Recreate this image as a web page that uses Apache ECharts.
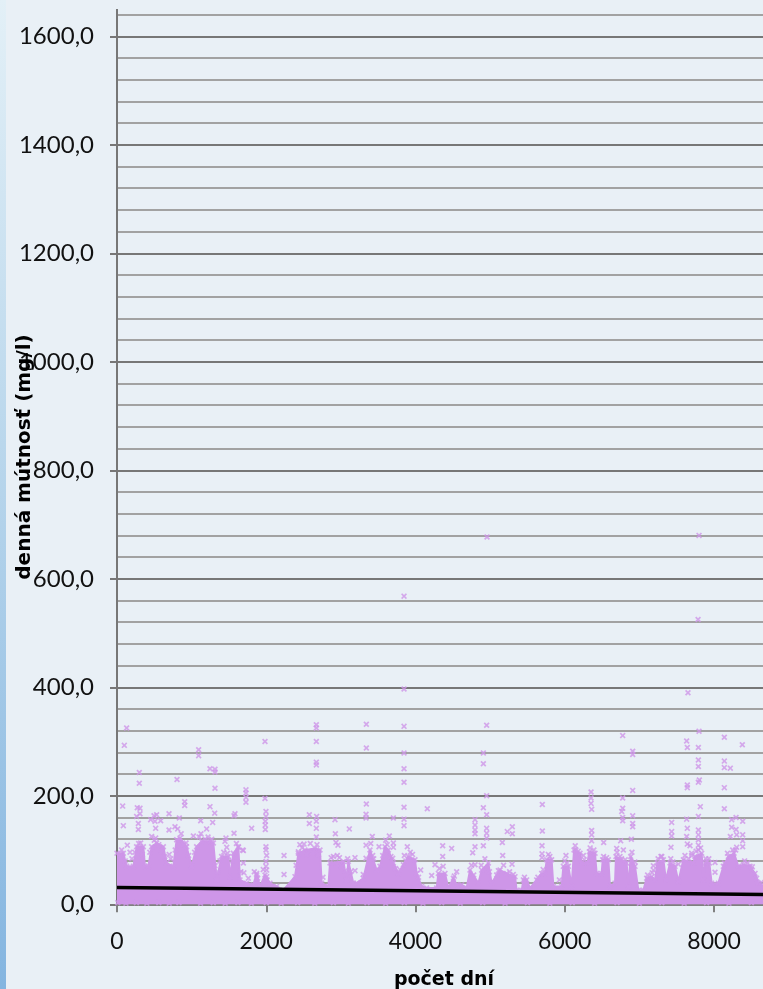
<!DOCTYPE html>
<html><head><meta charset="utf-8">
<script src="https://cdn.jsdelivr.net/npm/echarts@6/dist/echarts.min.js"></script>
<style>html,body{margin:0;padding:0;background:#E9F0F6;overflow:hidden}
#strip{position:absolute;left:0;top:0;width:6px;height:989px;background:linear-gradient(#E3F0F7,#BAD7EC 45%,#84B5E0)}
#c{position:absolute;left:0;top:0;width:763px;height:989px}</style></head>
<body><div id="c"></div><div id="strip"></div>
<script>
// Upper edge of the solid mass of overlapping daily points [day, mg/l]
const denseMassTop = [[0,94],[85,94],[129,70],[219,70],[263,106],[353,106],[375,70],[420,70],[464,106],[531,113],[621,106],[665,76],[755,70],[799,119],[844,122],[933,106],[1000,70],[1067,106],[1134,116],[1246,116],[1291,113],[1335,45],[1402,88],[1492,88],[1514,51],[1559,94],[1626,106],[1648,45],[1737,39],[1827,36],[1871,57],[1916,33],[1983,54],[2050,39],[2139,33],[2229,26],[2385,51],[2430,94],[2519,100],[2653,103],[2720,100],[2742,39],[2832,33],[2854,76],[3033,79],[3077,45],[3100,79],[3167,39],[3211,39],[3301,48],[3390,100],[3479,63],[3524,70],[3591,106],[3636,100],[3703,76],[3770,57],[3837,73],[3904,88],[3993,82],[4015,57],[4082,33],[4149,30],[4283,30],[4306,57],[4395,57],[4440,30],[4507,48],[4551,36],[4618,36],[4685,30],[4730,63],[4842,39],[4886,63],[4976,76],[5020,39],[5087,54],[5132,63],[5221,57],[5333,51],[5355,26],[5423,26],[5445,45],[5489,45],[5534,30],[5623,45],[5690,57],[5735,57],[5757,82],[5824,82],[5847,33],[5958,33],[5981,70],[6048,70],[6092,33],[6124,100],[6204,94],[6226,76],[6302,76],[6329,97],[6405,94],[6427,57],[6494,57],[6508,82],[6584,82],[6606,33],[6673,39],[6686,88],[6829,76],[6852,33],[6883,88],[6941,70],[6986,26],[7053,26],[7097,48],[7164,51],[7209,45],[7240,76],[7321,82],[7356,45],[7410,76],[7477,70],[7522,42],[7589,82],[7723,76],[7745,88],[7834,94],[7857,45],[7879,76],[7937,76],[7968,39],[8058,39],[8125,70],[8192,88],[8268,94],[8326,70],[8393,73],[8482,70],[8549,57],[8594,39],[8656,33]];
// Points standing just proud of the mass [day, mg/l]
const clusterEdge = [[40,88],[62,100],[110,80],[200,84],[240,96],[290,112],[340,92],[440,96],[500,118],[560,110],[600,98],[640,88],[700,92],[720,84],[780,100],[860,130],[890,110],[960,90],[1040,96],[1100,124],[1180,120],[1220,124],[1270,120],[1350,60],[1380,80],[1430,96],[1480,94],[1540,80],[1600,112],[1660,60],[1700,58],[1760,48],[1840,60],[1885,48],[1960,64],[2010,45],[2400,72],[2450,110],[2480,104],[2540,92],[2590,112],[2620,96],[2680,110],[2700,92],[2760,50],[2870,86],[2900,88],[2940,74],[2980,86],[3010,70],[3060,62],[3090,84],[3130,60],[3300,55],[3400,112],[3440,84],[3560,90],[3600,118],[3620,110],[3670,88],[3730,66],[3790,64],[3870,80],[3930,96],[3960,92],[4040,50],[4320,66],[4370,70],[4520,52],[4750,72],[4780,54],[4880,72],[4930,84],[4990,60],[5110,62],[5180,72],[5260,60],[5310,55],[5460,50],[5640,50],[5710,64],[5780,92],[5800,88],[6000,80],[6030,76],[6140,108],[6180,98],[6260,82],[6340,104],[6390,100],[6520,88],[6560,86],[6700,96],[6760,84],[6810,82],[6900,96],[6940,78],[7110,54],[7170,58],[7250,84],[7300,88],[7420,84],[7450,78],[7610,90],[7660,84],[7700,90],[7760,98],[7820,104],[7890,84],[7930,84],[8140,76],[8180,94],[8250,100],[8290,100],[8410,80],[8450,76],[8500,64],[8570,48],[8630,40]];
// Lowest readings along the axis [day, mg/l]
const lowReadings = [[10,3],[120,2],[260,3],[400,2],[560,3],[700,2],[830,3],[1120,2],[1290,3],[1450,2],[1620,3],[1800,2],[2000,3],[2200,2],[2420,3],[2650,2],[2900,3],[3100,2],[3350,3],[3600,2],[3850,3],[4100,2],[4350,3],[4600,2],[4900,3],[5200,2],[5500,3],[5800,2],[6100,3],[6400,2],[6700,3],[7000,2],[7300,3],[7600,2],[7900,3],[8200,2],[8500,3]];
// Individually readable points [day, mg/l]
const outliers = [[129,325],[98,293],[299,243],[299,223],[76,181],[85,145],[272,178],[308,177],[308,167],[263,162],[286,149],[286,138],[531,165],[496,163],[451,156],[509,153],[585,154],[518,140],[697,167],[697,137],[777,143],[813,139],[835,159],[907,189],[907,182],[804,230],[1094,285],[1094,274],[1246,250],[1313,249],[1313,244],[1313,214],[1246,180],[1309,168],[1121,154],[1282,151],[1201,139],[1125,130],[1023,126],[1568,163],[1581,167],[1568,131],[1460,122],[1447,116],[1470,105],[1626,105],[1693,99],[1313,71],[464,125],[518,122],[138,109],[317,113],[174,96],[925,113],
[1728,211],[1728,205],[1728,197],[1728,188],[1983,195],[1996,171],[1996,162],[1987,153],[1987,146],[1987,138],[1804,140],[1684,100],[1693,76],[1996,106],[1996,100],[2005,90],[1996,79],[1996,70],[2005,63],[2005,51],[1871,54],[2238,90],[2238,55],[1983,300],[2671,331],[2671,325],[2671,300],[2671,262],[2671,257],[3341,332],[3341,288],[3341,185],[3337,166],[3337,159],[2577,165],[2577,149],[2675,162],[2671,153],[2671,140],[2671,124],[2506,111],[2430,97],[2921,156],[2926,130],[2934,114],[2961,109],[2952,90],[3189,86],[3113,139],[3189,62],[3337,109],[3337,85],[3421,125],[3426,90],
[3846,568],[3846,397],[3846,328],[3846,279],[3846,250],[3846,225],[3846,179],[3846,157],[3846,145],[3703,159],[3649,126],[3703,113],[3703,105],[3511,106],[3890,106],[3850,90],[3694,85],[4158,176],[4364,108],[4364,88],[4484,103],[4261,73],[4216,53],[4551,60],[4069,63],[4958,677],[4953,330],[4909,279],[4909,259],[4953,200],[4909,178],[4953,165],[4797,156],[4797,146],[4797,137],[4797,130],[4953,140],[4953,131],[4953,122],[4909,108],[4797,106],[4766,95],[4797,73],[5163,114],[5168,90],
[5297,143],[5230,134],[5297,130],[5293,74],[5467,42],[5699,184],[5699,135],[5695,108],[5695,93],[5695,86],[6016,90],[5927,45],[6249,90],[6150,100],[6352,207],[6352,196],[6352,186],[6360,175],[6360,136],[6360,128],[6360,117],[6521,114],[6776,311],[6910,282],[6910,276],[6910,210],[6776,196],[6776,177],[6763,171],[6776,160],[6776,154],[6910,163],[6910,149],[6910,143],[6892,120],[6749,117],[6695,103],[6785,100],[6740,88],
[7432,151],[7432,134],[7432,126],[7423,105],[7187,71],[7187,63],[7289,88],[7799,680],[7786,525],[7651,390],[7799,319],[7633,301],[7642,289],[7790,289],[7790,266],[7790,254],[7803,229],[7790,225],[7642,220],[7642,215],[7816,180],[7790,162],[7633,157],[7642,140],[7633,125],[7642,111],[7678,108],[7700,94],[7790,137],[7790,128],[7790,119],[7790,109],[7790,100],[8138,308],[8379,294],[8138,264],[8138,252],[8218,251],[8138,215],[8138,176],[8236,156],[8295,160],[8384,153],[8236,142],[8295,138],[8303,128],[8218,125],[8384,128],[8384,117],[8384,106],[8303,105],[8513,69],[8013,59],[8013,77],[7901,79],[7522,74]];
// Linear trend line ends
const trendLine = [[0,31],[8656,18]];
const yAxisTitle = 'denná mútnosť (mg/l)';
const xAxisTitle = 'počet dní';

const MARK = 'path://M2 0L5 3L8 0L10 2L7 5L10 8L8 10L5 7L2 10L0 8L3 5L0 2Z';
const PURPLE = '#CE96E8';
const FONT = 'Lato';
const TITLE_FONT = 'DejaVu Sans';
const pointSeries = (name, data) => ({name, type:'scatter', data, symbol:MARK, symbolSize:6, z:3, clip:false, itemStyle:{color:PURPLE}});
const chart = echarts.init(document.getElementById('c'), null, {renderer:'canvas'});
chart.setOption({
  animation:false,
  backgroundColor:'#E9F0F6',
  grid:{left:117,top:-7.1,width:746.3,height:911.4,containLabel:false,outerBoundsMode:'none'},
  xAxis:{type:'value',min:0,max:10000,interval:2000,
    axisLine:{show:true,onZero:false,lineStyle:{color:'#808080',width:2}},
    axisTick:{show:true,length:8,lineStyle:{color:'#808080',width:2}},
    axisLabel:{color:'#111',fontFamily:FONT,fontSize:23,margin:26,formatter:v=>String(v)},
    splitLine:{show:false}},
  yAxis:{type:'value',min:0,max:1680,interval:200,
    axisLine:{show:true,lineStyle:{color:'#777',width:2}},
    axisTick:{show:true,length:7,lineStyle:{color:'#777',width:2}},
    axisLabel:{color:'#111',fontFamily:FONT,fontSize:24,margin:23,formatter:v=>v.toFixed(1).replace('.',',')},
    splitLine:{show:true,lineStyle:{color:'#777',width:2}},
    minorTick:{show:false,splitNumber:5},
    minorSplitLine:{show:true,lineStyle:{color:'#A2A2A2',width:2}}},
  graphic:[
    {type:'rect',z:100,shape:{x:0,y:0,width:763,height:9},style:{fill:'#E9F0F6'}},
    {type:'text',z:100,x:444,y:980,style:{text:xAxisTitle,fontFamily:TITLE_FONT,fontWeight:'bold',fontSize:19,fill:'#000',align:'center',verticalAlign:'middle'}},
    {type:'text',z:100,x:25,y:457,rotation:Math.PI/2,style:{text:yAxisTitle,fontFamily:TITLE_FONT,fontWeight:'bold',fontSize:20,fill:'#000',align:'center',verticalAlign:'middle'}}
  ],
  series:[
    {name:'mass',type:'line',data:denseMassTop,showSymbol:false,silent:true,z:2,
     lineStyle:{width:2,color:PURPLE},areaStyle:{color:PURPLE,opacity:1}},
    pointSeries('massTopPoints',denseMassTop),
    pointSeries('clusterEdge',clusterEdge),
    pointSeries('lowReadings',lowReadings),
    pointSeries('points',outliers),
    {name:'trend',type:'line',data:trendLine,showSymbol:false,z:5,lineStyle:{color:'#000',width:3.5}}
  ]
});
</script></body></html>
